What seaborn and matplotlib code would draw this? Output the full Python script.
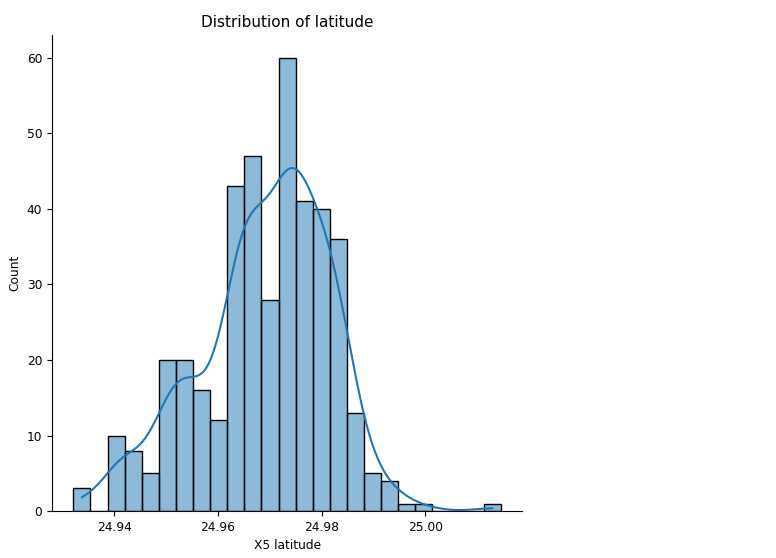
import numpy as np
import pandas as pd
import matplotlib
matplotlib.use("Agg")
import matplotlib.pyplot as plt
import seaborn as sns

# latitude range of the data and the 25 bin counts
lat_min = 24.93207
lat_max = 25.01459
counts = [3, 0, 10, 8, 5, 20, 20, 16, 12, 43, 47, 28, 60,
          41, 40, 36, 13, 5, 4, 1, 1, 0, 0, 0, 1]

edges = np.linspace(lat_min, lat_max, len(counts) + 1)
df = pd.DataFrame({"X5 latitude": (edges[:-1] + edges[1:]) / 2, "n": counts})

plt.rcParams["xtick.labelsize"] = 8.8
plt.rcParams["ytick.labelsize"] = 8.8
plt.rcParams["axes.labelsize"] = 8.8
plt.rcParams["axes.titlesize"] = 11

fig = plt.figure(figsize=(7.76, 5.58), dpi=100)
ax = fig.add_axes([0.067, 0.084, 0.606, 0.853])

# weighted kde gets a wider bandwidth (small effective n), so pull it back in
sns.histplot(data=df, x="X5 latitude", weights="n", bins=len(counts),
             binrange=(lat_min, lat_max), kde=True,
             kde_kws={"bw_adjust": 0.45}, ax=ax)
sns.despine(ax=ax)

ax.set_xlim(lat_min - 0.05 * (lat_max - lat_min), lat_max + 0.05 * (lat_max - lat_min))
ax.set_xticks([24.94, 24.96, 24.98, 25.00])
ax.set_xticklabels(["24.94", "24.96", "24.98", "25.00"])
ax.set_ylabel("Count")
ax.set_title("Distribution of latitude")

fig.savefig("out.png", dpi=100)
